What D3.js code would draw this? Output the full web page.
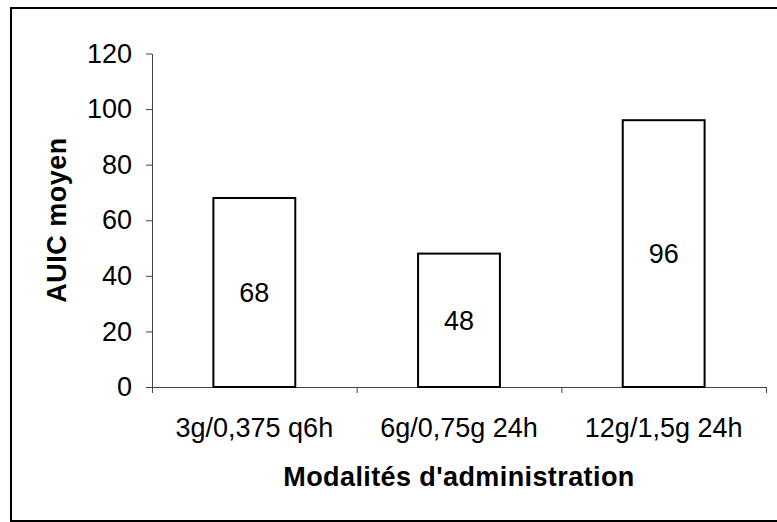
<!DOCTYPE html>
<html>
<head>
<meta charset="utf-8">
<script src="https://cdn.jsdelivr.net/npm/d3@7"></script>
<style>
  html, body { margin: 0; padding: 0; background: #fff; }
  svg { display: block; }
  text { font-family: Arial, "Liberation Sans", sans-serif; fill: #000; }
</style>
</head>
<body>
<svg id="chart" width="777" height="522"></svg>
<script>
const categories = ["3g/0,375 q6h", "6g/0,75g 24h", "12g/1,5g 24h"];
const values = [68, 48, 96];
const yTicks = [0, 20, 40, 60, 80, 100, 120];
const yTitle = "AUIC moyen";
const xTitle = "Modalités d'administration";

const svg = d3.select("#chart");
const W = 777, H = 522;
const plot = { left: 152, right: 766, top: 53.5, bottom: 387 };
const FS = 27;

svg.append("rect").attr("width", W).attr("height", H).attr("fill", "#fff");
svg.append("rect")
  .attr("x", 11).attr("y", 8).attr("width", 800).attr("height", 513)
  .attr("fill", "none").attr("stroke", "#000").attr("stroke-width", 2);

const y = d3.scaleLinear().domain([0, 120]).range([plot.bottom, plot.top]);
const x = d3.scaleBand().domain(categories).range([plot.left, plot.right]).padding(0);
const xEdge = d3.scaleLinear().domain([0, categories.length]).range([plot.left, plot.right]);

// Y axis
const yAxis = svg.append("g").attr("transform", `translate(${plot.left},0)`)
  .call(d3.axisLeft(y).tickValues(yTicks).tickSize(6).tickSizeOuter(0).tickPadding(14));
yAxis.selectAll("path, line").attr("stroke", "#444").attr("stroke-width", 1);
yAxis.selectAll("text").attr("font-size", FS)
  .attr("font-family", "Arial, 'Liberation Sans', sans-serif").attr("fill", "#000");

// X axis
const xAxis = svg.append("g").attr("transform", `translate(0,${plot.bottom})`)
  .call(d3.axisBottom(xEdge).tickValues(d3.range(categories.length + 1)).tickFormat("").tickSize(6).tickSizeOuter(0));
xAxis.selectAll("path, line").attr("stroke", "#444").attr("stroke-width", 1);

// Bars
const barW = x.bandwidth() * 0.4;
svg.append("g").selectAll("rect").data(values).join("rect")
  .attr("x", (d, i) => x(categories[i]) + (x.bandwidth() - barW) / 2)
  .attr("y", d => y(d))
  .attr("width", barW)
  .attr("height", d => y(0) - y(d))
  .attr("fill", "#fff").attr("stroke", "#000").attr("stroke-width", 2);

// Value labels
svg.append("g").selectAll("text").data(values).join("text")
  .attr("x", (d, i) => x(categories[i]) + x.bandwidth() / 2)
  .attr("y", d => (y(d) + y(0)) / 2)
  .attr("dy", "0.36em")
  .attr("text-anchor", "middle")
  .attr("font-size", FS)
  .text(d => d);

// Category labels
svg.append("g").selectAll("text").data(categories).join("text")
  .attr("x", d => x(d) + x.bandwidth() / 2)
  .attr("y", 437)
  .attr("text-anchor", "middle")
  .attr("font-size", FS)
  .text(d => d);

// Axis titles
svg.append("text")
  .attr("x", (plot.left + plot.right) / 2).attr("y", 486)
  .attr("text-anchor", "middle")
  .attr("font-size", FS).attr("font-weight", "bold").attr("letter-spacing", 0.4)
  .text(xTitle);

svg.append("text")
  .attr("transform", `translate(66,220) rotate(-90)`)
  .attr("text-anchor", "middle")
  .attr("font-size", FS).attr("font-weight", "bold").attr("letter-spacing", 0.5)
  .text(yTitle);
</script>
</body>
</html>
